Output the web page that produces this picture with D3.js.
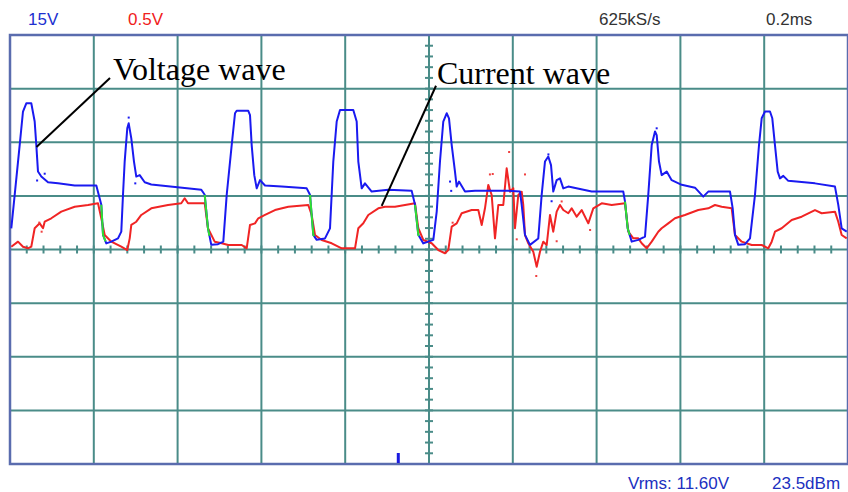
<!DOCTYPE html>
<html>
<head>
<meta charset="utf-8">
<script src="https://cdn.jsdelivr.net/npm/d3@7/dist/d3.min.js"></script>
<style>
  html, body { margin: 0; padding: 0; background: #ffffff; }
  svg { display: block; }
</style>
</head>
<body>
<svg id="chart" width="848" height="492"></svg>
<script>
// ---------- DATA ----------
// time in microseconds (0.2 ms / div, 10 divisions)
const voltTime = [3.1,11.2,23.1,31.0,38.9,50.8,58.9,62.8,66.8,74.7,90.7,114.6,154.4,206.0,217.9,222.0,229.8,241.8,257.8,265.6,269.7,273.7,279.9,283.3,289.5,295.9,301.4,309.5,321.5,337.2,456.6,464.7,472.5,480.4,496.4,509.1,517.2,529.1,537.0,541.0,568.7,572.8,576.8,583.0,588.8,596.7,608.6,648.4,708.1,716.0,723.9,732.0,751.8,763.7,771.6,779.7,787.6,819.3,827.4,831.3,839.4,847.2,863.2,902.9,958.7,966.6,974.5,986.4,998.3,1010.3,1018.4,1026.2,1034.1,1042.2,1047.7,1054.2,1062.0,1066.1,1071.6,1085.9,1109.8,1189.2,1217.2,1221.2,1229.1,1241.0,1260.8,1268.9,1276.8,1284.7,1291.2,1296.6,1304.7,1312.6,1320.5,1332.4,1388.3,1463.7,1467.8,1474.2,1483.8,1499.5,1515.5,1523.3,1531.5,1539.4,1543.4,1548.9,1555.3,1567.3,1579.2,1603.1,1634.8,1654.6,1666.5,1718.4,1724.8,1730.3,1738.2,1754.2,1766.1,1778.0,1787.6,1794.0,1801.9,1813.8,1819.3,1825.7,1832.2,1837.7,1845.6,1857.5,1921.2,1968.9,1976.8,1984.9,1996.9];
const voltValues = [5.9,15.3,29.2,38.6,40.9,40.9,35.8,29.2,21.8,20.4,18.8,18.5,17.9,17.9,12.5,4.1,1.7,2.2,3.1,5.0,15.3,24.6,33.9,35.3,31.1,24.6,20.4,20.8,18.8,18.2,16.7,15.3,5.9,1.3,1.5,2.2,15.3,29.2,38.1,38.8,38.8,37.6,29.2,20.8,17.1,19.4,17.9,17.6,17.1,15.3,4.1,2.7,3.1,5.9,24.6,35.8,39.0,39.0,35.8,24.6,17.1,18.5,16.2,16.7,16.4,12.5,4.1,1.7,2.2,2.7,10.6,24.6,35.8,38.1,36.7,29.2,21.8,17.6,19.0,16.2,16.4,16.4,16.2,12.5,4.1,1.3,3.1,15.3,24.6,26.0,23.6,16.2,19.4,19.9,17.1,17.6,16.2,16.2,13.4,5.9,2.2,2.7,3.6,15.3,29.2,33.0,32.0,24.6,20.8,21.8,19.4,18.1,17.3,14.8,16.2,16.2,11.5,4.1,1.3,1.5,3.1,15.3,29.2,36.7,38.6,38.6,36.7,29.2,21.8,19.9,20.6,19.2,18.5,17.6,12.5,5.9,5.0];

const currTime = [3.1,19.1,31.0,43.0,50.8,58.9,70.9,78.8,82.8,98.6,122.4,154.4,186.2,210.0,217.9,226.0,241.8,265.6,279.9,285.7,289.5,301.4,313.4,337.2,377.1,408.8,416.9,424.8,464.7,472.5,488.5,505.2,521.0,553.0,564.9,572.8,584.7,592.6,608.6,632.4,664.2,711.9,720.0,727.9,743.9,767.8,791.6,823.4,831.3,843.2,855.1,879.0,895.0,918.8,966.6,974.5,986.4,1006.4,1022.2,1038.2,1046.0,1054.2,1066.1,1078.0,1101.9,1117.7,1125.8,1133.6,1141.5,1149.6,1157.5,1165.4,1177.3,1185.4,1193.3,1201.2,1205.2,1213.1,1221.2,1225.0,1229.1,1237.0,1248.9,1257.0,1264.9,1272.8,1280.9,1288.8,1296.6,1304.7,1312.6,1320.5,1332.4,1340.5,1352.5,1364.4,1380.2,1392.1,1412.2,1436.0,1467.8,1475.7,1487.6,1499.5,1507.6,1519.5,1531.5,1547.2,1555.3,1571.0,1587.0,1610.8,1642.7,1666.5,1682.5,1698.5,1722.4,1730.3,1746.3,1770.2,1794.0,1809.8,1817.9,1825.7,1841.7,1865.6,1889.4,1921.2,1937.2,1968.9,1976.8,1984.9,1996.9];
const currValues = [0.026,0.073,0.026,0.011,0.026,0.198,0.244,0.198,0.259,0.291,0.353,0.399,0.415,0.431,0.291,0.135,0.073,0.026,-0.005,0.104,0.229,0.259,0.322,0.384,0.415,0.431,0.478,0.431,0.431,0.198,0.073,0.058,0.042,0.042,0.011,0.229,0.244,0.291,0.322,0.368,0.399,0.415,0.322,0.135,0.089,0.058,0.011,0.011,0.198,0.244,0.322,0.384,0.399,0.399,0.431,0.198,0.089,0.058,-0.005,-0.035,-0.005,0.213,0.244,0.338,0.368,0.368,0.229,0.384,0.602,0.508,0.104,0.415,0.415,0.757,0.539,0.571,0.198,0.508,0.539,0.415,0.135,0.058,-0.021,-0.160,-0.021,0.073,0.042,0.322,0.166,0.353,0.415,0.368,0.338,0.384,0.306,0.368,0.244,0.384,0.431,0.415,0.431,0.166,0.104,0.104,0.058,0.011,0.073,0.166,0.198,0.244,0.291,0.322,0.368,0.384,0.415,0.399,0.384,0.135,0.073,0.042,0.042,0.011,0.073,0.166,0.198,0.275,0.306,0.368,0.338,0.353,0.259,0.135,0.104];

// stray sample dots
const voltDotTime = [64.7,82.8,283.3,299.0,1050.2,1053.0,1285.0,1292.6,1543.4];
const voltDotValues = [19.3,21.2,36.9,18.5,19.0,16.4,26.6,13.5,33.9];
const currDotTime = [69.9,75.5,1056.4,1145.4,1152.1,1191.2,1229.1,1209.4,1256.0,1304.7,1316.6,1384.5];
const currDotValues = [0.251,0.166,0.250,0.700,0.704,0.909,0.700,0.095,-0.247,0.077,0.448,0.182];

// windows where the two traces overlap (drawn green by the scope)
const overlapStart = [217.9, 464.7, 716.0, 966.6, 1467.8];
const overlapEnd   = [228.0, 476.0, 726.0, 976.0, 1479.0];

// trigger marker time
const triggerTime = [926.7];

// header / footer labels
const headerLabels = ["15V", "0.5V", "625kS/s", "0.2ms"];
const footerLabels = ["Vrms: 11.60V", "23.5dBm"];

// annotations (time µs, voltage-scale V)
const annoText = ["Voltage wave", "Current wave"];
const annoTextT = [245.8, 1019.0];
const annoTextV = [47.4, 46.3];
const annoFromT = [238.7, 1016.7];
const annoFromV = [48.0, 45.8];
const annoToT = [63.2, 887.1];
const annoToV = [28.7, 12.2];

// ---------- CHART ----------
const svg = d3.select("#chart");
const pL = 10, pR = 848, pT = 35, pB = 464;

const x = d3.scaleLinear().domain([0, 2000]).range([pL, pR]);
const yV = d3.scaleLinear().domain([-60, 60]).range([pB, pT]);
const yI = d3.scaleLinear().domain([-2, 2]).range([pB, pT]);

svg.append("rect").attr("width", 848).attr("height", 492).attr("fill", "#ffffff");

const gridColor = "#4a8c88";
const frameColor = "#5a6cae";

// grid lines
const gGrid = svg.append("g");
gGrid.selectAll("line.v").data(d3.range(200, 2000, 200)).join("line")
  .attr("class", "v")
  .attr("x1", d => x(d)).attr("x2", d => x(d))
  .attr("y1", pT).attr("y2", pB)
  .attr("stroke", gridColor).attr("stroke-width", 2);
gGrid.selectAll("line.h").data(d3.range(-45, 60, 15)).join("line")
  .attr("class", "h")
  .attr("x1", pL).attr("x2", pR)
  .attr("y1", d => yV(d)).attr("y2", d => yV(d))
  .attr("stroke", gridColor).attr("stroke-width", 2);

// minor ticks on center axes
gGrid.selectAll("line.mx").data(d3.range(0, 2001, 40)).join("line")
  .attr("class", "mx")
  .attr("x1", d => x(d)).attr("x2", d => x(d))
  .attr("y1", yV(0) - 4).attr("y2", yV(0) + 4)
  .attr("stroke", gridColor).attr("stroke-width", 2);
gGrid.selectAll("line.my").data(d3.range(-60, 61, 3)).join("line")
  .attr("class", "my")
  .attr("x1", x(1000) - 4).attr("x2", x(1000) + 4)
  .attr("y1", d => yV(d)).attr("y2", d => yV(d))
  .attr("stroke", gridColor).attr("stroke-width", 2);

// frame
svg.append("rect")
  .attr("x", pL).attr("y", pT)
  .attr("width", pR - pL).attr("height", pB - pT)
  .attr("fill", "none").attr("stroke", frameColor).attr("stroke-width", 2.5);

// traces
const lineV = d3.line().x((d, i) => x(voltTime[i])).y(d => yV(d));
const lineI = d3.line().x((d, i) => x(currTime[i])).y(d => yI(d));

svg.append("path").datum(currValues)
  .attr("d", lineI).attr("fill", "none")
  .attr("stroke", "#f02424").attr("stroke-width", 2).attr("stroke-linejoin", "round");

svg.append("path").datum(voltValues)
  .attr("d", lineV).attr("fill", "none")
  .attr("stroke", "#1a1af0").attr("stroke-width", 2).attr("stroke-linejoin", "round");

// overlap (green) segments
const voltPts = voltTime.map((t, i) => [t, voltValues[i]]);
const interpV = t => {
  for (let i = 1; i < voltPts.length; i++) {
    if (voltPts[i][0] >= t) {
      const [t0, v0] = voltPts[i - 1], [t1, v1] = voltPts[i];
      return v0 + (v1 - v0) * (t - t0) / (t1 - t0);
    }
  }
  return voltPts[voltPts.length - 1][1];
};
overlapStart.forEach((s, k) => {
  const e = overlapEnd[k];
  const seg = [[s, interpV(s)]].concat(voltPts.filter(p => p[0] > s && p[0] < e)).concat([[e, interpV(e)]]);
  svg.append("path").datum(seg)
    .attr("d", d3.line().x(d => x(d[0])).y(d => yV(d[1])))
    .attr("fill", "none").attr("stroke", "#30e030").attr("stroke-width", 2);
});

// stray dots
svg.selectAll("rect.vd").data(voltDotValues).join("rect")
  .attr("class", "vd")
  .attr("x", (d, i) => x(voltDotTime[i]) - 1).attr("y", d => yV(d) - 1)
  .attr("width", 2).attr("height", 2).attr("fill", "#1a1af0");
svg.selectAll("rect.cd").data(currDotValues).join("rect")
  .attr("class", "cd")
  .attr("x", (d, i) => x(currDotTime[i]) - 1).attr("y", d => yI(d) - 1)
  .attr("width", 2).attr("height", 2).attr("fill", "#f04040");

// trigger marker
svg.selectAll("rect.trig").data(triggerTime).join("rect")
  .attr("class", "trig")
  .attr("x", d => x(d) - 1.5).attr("y", pB - 11)
  .attr("width", 3).attr("height", 10).attr("fill", "#1a1ae0");

// header labels
const headX = [28, 128, 599, 766];
const headColor = ["#2030d0", "#f02020", "#333333", "#333333"];
svg.selectAll("text.head").data(headerLabels).join("text")
  .attr("class", "head")
  .attr("x", (d, i) => headX[i]).attr("y", 25)
  .attr("font-family", "Liberation Sans, Arial, sans-serif")
  .attr("font-size", 17)
  .attr("fill", (d, i) => headColor[i])
  .text(d => d);

// footer labels
const footX = [628, 772];
svg.selectAll("text.foot").data(footerLabels).join("text")
  .attr("class", "foot")
  .attr("x", (d, i) => footX[i]).attr("y", 489)
  .attr("font-family", "Liberation Sans, Arial, sans-serif")
  .attr("font-size", 17)
  .attr("fill", "#2030c0")
  .text(d => d);

// annotations
svg.selectAll("line.anno").data(annoText).join("line")
  .attr("class", "anno")
  .attr("x1", (d, i) => x(annoFromT[i])).attr("y1", (d, i) => yV(annoFromV[i]))
  .attr("x2", (d, i) => x(annoToT[i])).attr("y2", (d, i) => yV(annoToV[i]))
  .attr("stroke", "#000").attr("stroke-width", 2);
svg.selectAll("text.anno").data(annoText).join("text")
  .attr("class", "anno")
  .attr("x", (d, i) => x(annoTextT[i])).attr("y", (d, i) => yV(annoTextV[i]))
  .attr("font-family", "Liberation Serif, Times New Roman, serif")
  .attr("font-size", 32)
  .attr("fill", "#000")
  .text(d => d);
</script>
</body>
</html>
